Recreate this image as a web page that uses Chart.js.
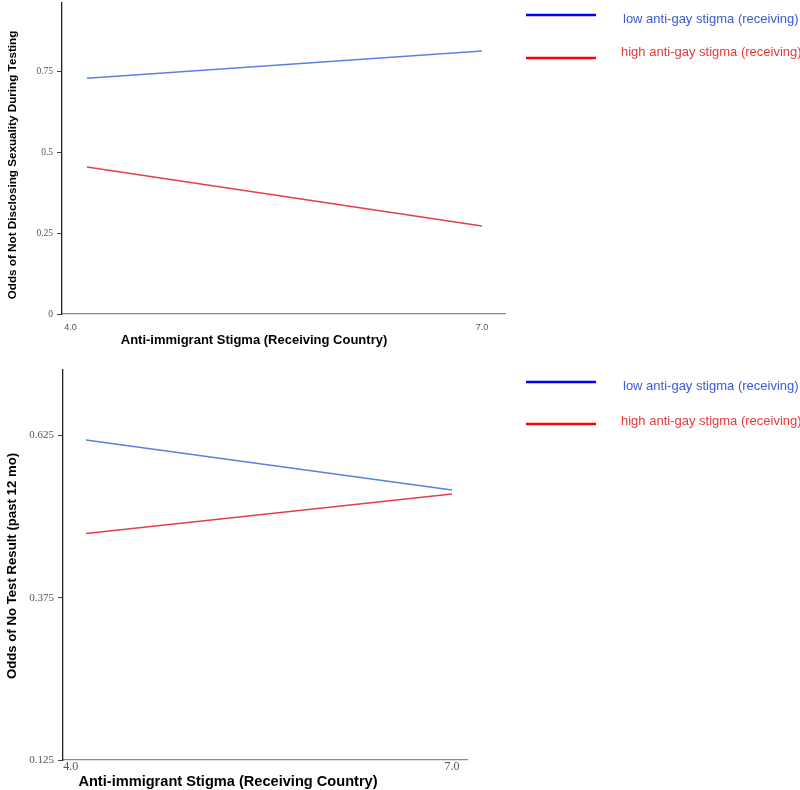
<!DOCTYPE html>
<html>
<head>
<meta charset="utf-8">
<script src="https://cdn.jsdelivr.net/npm/chart.js@4.4.0/dist/chart.umd.min.js"></script>
<style>
    body { margin: 0; background: #fff; }
    #disclosure { position: absolute; left: 0; top: 0; }
    #noResult { position: absolute; left: 0; top: 360px; }
</style>
</head>
<body>
<canvas id="disclosure" width="800" height="360"></canvas>
<canvas id="noResult" width="800" height="430"></canvas>
<script>
// x positions of the plotted lines (anti-immigrant stigma)
const stigma = [4.12, 7.0]
const xTicks = [4.0, 7.0]
const seriesLabels = ['low anti-gay stigma (receiving)', 'high anti-gay stigma (receiving)']

// top panel: odds of not disclosing sexuality during testing
const disclosureLow  = [0.728, 0.812]
const disclosureHigh = [0.454, 0.272]
const disclosureTicks = [0, 0.25, 0.5, 0.75]

// bottom panel: odds of no test result (past 12 mo)
const noResultLow  = [0.618, 0.541]
const noResultHigh = [0.474, 0.535]
const noResultTicks = [0.125, 0.375, 0.625]

const SANS = '"Liberation Sans", Arial, sans-serif'
const SERIF = '"Liberation Serif", "Times New Roman", serif'

// draws axis titles and the legend at fixed spots, like the original figure
function makeAnnotate(lay) {
    return {
        id: 'annotate',
        afterDraw(chart) {
            const ctx = chart.ctx
            ctx.save()
            ctx.fillStyle = '#000'
            ctx.textAlign = 'center'
            ctx.textBaseline = 'middle'
            ctx.font = 'bold ' + lay.xTitle.size + 'px ' + SANS
            ctx.fillText(lay.xTitle.text, lay.xTitle.x, lay.xTitle.y)

            ctx.save()
            ctx.translate(lay.yTitle.x, lay.yTitle.y)
            ctx.rotate(-Math.PI / 2)
            ctx.font = 'bold ' + lay.yTitle.size + 'px ' + SANS
            ctx.fillText(lay.yTitle.text, 0, 0)
            ctx.restore()

            // legend
            chart.data.datasets.forEach((ds, i) => {
                const it = lay.legend[i]
                ctx.strokeStyle = it.swatch
                ctx.lineWidth = 2.5
                ctx.beginPath()
                ctx.moveTo(526, it.lineY)
                ctx.lineTo(596, it.lineY)
                ctx.stroke()
                ctx.fillStyle = it.text
                ctx.textAlign = 'left'
                ctx.font = '13px ' + SANS
                ctx.fillText(ds.label, it.textX, it.textY)
            })
            ctx.restore()
        }
    }
}

function buildChart(id, cfg) {
    return new Chart(document.getElementById(id), {
        type: 'line',
        data: {
            datasets: [{
                label: seriesLabels[0],
                data: stigma.map((x, i) => ({ x: x, y: cfg.low[i] })),
                borderColor: '#5a80e2',
                borderWidth: 1.5,
                pointRadius: 0,
                fill: false,
            }, {
                label: seriesLabels[1],
                data: stigma.map((x, i) => ({ x: x, y: cfg.high[i] })),
                borderColor: '#e2404c',
                borderWidth: 1.5,
                pointRadius: 0,
                fill: false,
            }]
        },
        options: {
            responsive: false,
            animation: false,
            layout: { padding: cfg.padding },
            plugins: {
                legend: { display: false },
                tooltip: { enabled: false },
            },
            scales: {
                x: {
                    type: 'linear',
                    min: cfg.xMin,
                    max: cfg.xMax,
                    afterBuildTicks: scale => { scale.ticks = xTicks.map(v => ({ value: v })) },
                    afterFit: scale => { scale.height = cfg.xHeight },
                    grid: { display: false, drawTicks: false },
                    border: { display: true, color: '#8a8a8a', width: 1.3 },
                    ticks: {
                        autoSkip: false,
                        maxRotation: 0,
                        padding: cfg.xTickPad,
                        color: '#555',
                        font: { family: cfg.xTickFont, size: cfg.xTickSize },
                        callback: v => Number(v).toFixed(1),
                    },
                },
                y: {
                    min: cfg.yMin,
                    max: cfg.yMax,
                    afterBuildTicks: scale => { scale.ticks = cfg.yTicks.map(v => ({ value: v })) },
                    afterFit: scale => {
                        scale.width = cfg.yWidth
                        scale.paddingTop = 0
                    },
                    grid: { drawOnChartArea: false, drawTicks: true, tickLength: 5, color: '#444' },
                    border: { display: true, color: '#222', width: 1.3 },
                    ticks: {
                        autoSkip: false,
                        padding: 4,
                        color: '#555',
                        font: { family: SERIF, size: cfg.yTickSize },
                        callback: v => String(v),
                    },
                },
            },
        },
        plugins: [makeAnnotate(cfg.layout)],
    })
}

buildChart('disclosure', {
    low: disclosureLow,
    high: disclosureHigh,
    yTicks: disclosureTicks,
    yMin: 0, yMax: 0.96,
    xMin: 3.938, xMax: 7.168,
    padding: { left: 0, top: 3, right: 295, bottom: 0 },
    xHeight: 46, yWidth: 62,
    xTickPad: 8, xTickFont: SANS, xTickSize: 9,
    yTickSize: 9.5,
    layout: {
        xTitle: { text: 'Anti-immigrant Stigma (Receiving Country)', size: 13, x: 254, y: 340 },
        yTitle: { text: 'Odds of Not Disclosing Sexuality During Testing', size: 11.7, x: 13, y: 165 },
        legend: [
            { swatch: '#0000ff', text: '#3a5ad8', lineY: 15, textX: 623, textY: 19 },
            { swatch: '#ff0000', text: '#e53a3a', lineY: 58, textX: 621, textY: 52 },
        ],
    },
})

buildChart('noResult', {
    low: noResultLow,
    high: noResultHigh,
    yTicks: noResultTicks,
    yMin: 0.125, yMax: 0.726,
    xMin: 3.939, xMax: 7.118,
    padding: { left: 0, top: 10, right: 333, bottom: 0 },
    xHeight: 30, yWidth: 63,
    xTickPad: 0, xTickFont: SERIF, xTickSize: 12,
    yTickSize: 11,
    layout: {
        xTitle: { text: 'Anti-immigrant Stigma (Receiving Country)', size: 14.6, x: 228, y: 422 },
        yTitle: { text: 'Odds of No Test Result (past 12 mo)', size: 13.2, x: 12, y: 206 },
        legend: [
            { swatch: '#0000ff', text: '#3a5ad8', lineY: 22, textX: 623, textY: 26 },
            { swatch: '#ff0000', text: '#e53a3a', lineY: 64, textX: 621, textY: 61 },
        ],
    },
})
</script>
</body>
</html>
